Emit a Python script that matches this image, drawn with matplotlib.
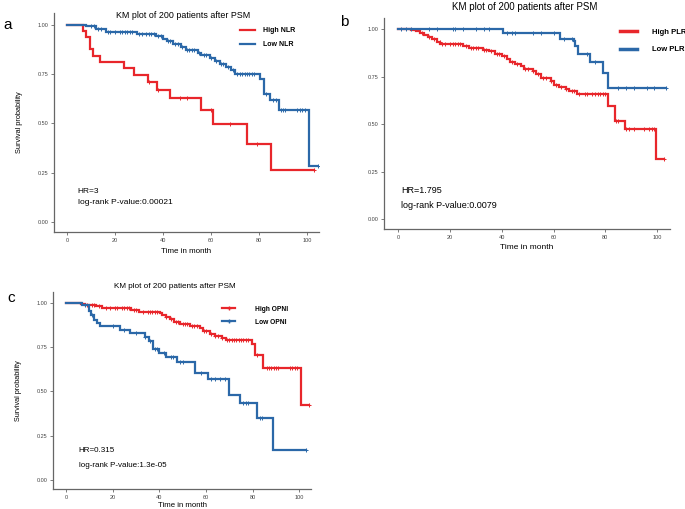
import matplotlib
matplotlib.use("Agg")
import matplotlib.pyplot as plt
import numpy as np

plt.rcParams["font.family"] = ["Liberation Sans", "DejaVu Sans"]

RED = "#e8262b"
BLUE = "#2b68a8"

# panel a: NLR
nlr_high_t = [0, 6.5, 8, 9.7, 10.6, 13.5, 23.8, 27.7, 33.6, 37.6, 42.8, 55.8, 60.6, 74.8, 84.9]
nlr_high_s = [1.0, 0.97, 0.937, 0.876, 0.844, 0.813, 0.781, 0.748, 0.71, 0.672, 0.628, 0.567, 0.497, 0.398, 0.265]
nlr_high_end = 103
nlr_high_cens = [34, 38, 47, 50, 60, 68, 79, 103]

nlr_low_t = [0, 8, 12, 16, 29, 37, 40, 41.5, 44, 47.5, 49.6, 54.5, 56, 59.4, 61.5, 63.6, 66.3, 68.4,
             69.8, 80.3, 82, 84.4, 88.5, 100.8]
nlr_low_s = [1.0, 0.995, 0.98, 0.966, 0.953, 0.942, 0.93, 0.92, 0.905, 0.89, 0.872, 0.858, 0.845, 0.83,
             0.815, 0.802, 0.787, 0.77, 0.75, 0.727, 0.647, 0.62, 0.57, 0.285]
nlr_low_end = 104.5
nlr_low_cens = [10, 11, 13, 14, 17, 18, 20, 22, 23, 24, 25, 26, 27, 30, 31, 33, 34, 35, 36, 38, 39, 42,
                43, 45, 46, 48, 50, 51, 52, 53, 55, 57, 58, 60, 62, 64, 65, 67, 69, 71, 72, 73, 74, 75,
                76, 77, 78, 83, 86, 87, 89, 90, 91, 96, 97, 98, 99, 104.5]

# panel b: PLR
plr_high_t = [0, 5, 7, 8.5, 10, 11.5, 13, 15, 16.2, 25, 27.5, 32.6, 35, 37.5, 40, 42, 43, 45, 47.4, 48.7,
              51.9, 53.2, 55, 58.9, 60.2, 62, 64.7, 66, 69.1, 81, 83.8, 87.8, 99.7]
plr_high_s = [1.0, 0.995, 0.99, 0.982, 0.972, 0.962, 0.95, 0.935, 0.921, 0.913, 0.904, 0.893, 0.885,
              0.872, 0.86, 0.845, 0.83, 0.818, 0.805, 0.79, 0.78, 0.765, 0.745, 0.728, 0.71, 0.697,
              0.685, 0.677, 0.659, 0.598, 0.518, 0.477, 0.318]
plr_high_end = 102.5
plr_high_cens = [9, 12, 14, 16, 17, 18, 20, 21, 22, 23, 24, 26, 28, 29, 30, 31, 33, 34, 36, 38, 39, 41,
                 44, 46, 49, 50, 52, 54, 56, 57, 59, 61, 63, 65, 67, 68, 70, 72, 73, 75, 76, 77, 78,
                 79, 80, 84, 85, 88, 89, 91, 95, 97, 98, 99, 102.5]

plr_low_t = [0, 40.3, 62.4, 67.8, 68.4, 69.4, 74.2, 79.3, 81]
plr_low_s = [1.0, 0.982, 0.948, 0.94, 0.913, 0.872, 0.83, 0.773, 0.693]
plr_low_end = 103.5
plr_low_cens = [1, 3, 5, 12, 15, 21, 22, 25, 30, 33, 35, 42, 44, 45, 52, 55, 60, 64, 67, 73, 76, 85, 88,
                91, 96, 99, 103.5]

# panel c: OPNI
opni_high_t = [0, 6.3, 8, 13, 15.5, 28, 31.5, 40.3, 41, 42.8, 44.6, 46.5, 49, 53, 57.4, 58.8, 61.7,
               63.8, 66.7, 68.8, 79.6, 81.2, 84.6, 100.7]
opni_high_s = [1.0, 0.995, 0.987, 0.981, 0.968, 0.957, 0.95, 0.942, 0.93, 0.918, 0.907, 0.893, 0.881,
               0.868, 0.856, 0.84, 0.826, 0.812, 0.8, 0.79, 0.768, 0.706, 0.634, 0.422]
opni_high_end = 104
opni_high_cens = [9, 11, 12, 14, 17, 19, 21, 22, 24, 25, 26, 27, 29, 30, 33, 35, 36, 37, 38, 39, 43,
                  45, 47, 48, 50, 51, 52, 54, 55, 56, 59, 60, 62, 64, 65, 67, 69, 70, 71, 72, 73, 74,
                  75, 76, 77, 78, 82, 86, 87, 88, 89, 90, 91, 96, 97, 98, 99, 104]

opni_low_t = [0, 7, 9.8, 10.8, 12.2, 13.4, 14.5, 23.3, 27.6, 33.8, 35.5, 37.5, 40, 43, 47.4, 55.3, 61,
              70, 74.8, 82, 88.7]
opni_low_s = [1.0, 0.987, 0.954, 0.928, 0.904, 0.885, 0.866, 0.845, 0.827, 0.808, 0.786, 0.737, 0.717,
              0.695, 0.665, 0.604, 0.569, 0.482, 0.433, 0.349, 0.172]
opni_low_end = 102.8
opni_low_cens = [8, 11, 20, 25, 30, 34, 36, 38, 39, 42, 45, 46, 49, 50, 58, 62, 64, 66, 68, 76, 77, 78,
                 83, 84, 102.8]

y_ticks = [0.0, 0.25, 0.5, 0.75, 1.0]
x_ticks = [0, 20, 40, 60, 80, 100]

W, H = 685, 509


def km_curve(ax, t, s, end, cens, color, label):
    tt = list(t) + [end]
    ss = list(s) + [s[-1]]
    ax.step(tt, ss, where="post", color=color, lw=1.6, label=label, solid_joinstyle="miter")
    idx = np.searchsorted(t, cens, side="right") - 1
    cy = np.array(s)[idx]
    ax.plot(cens, cy, ls="none", marker="+", ms=3.5, mew=0.7, color=color)


def make_axes(fig, left, top, right, bottom):
    ax = fig.add_axes([left / W, 1 - bottom / H, (right - left) / W, (bottom - top) / H])
    ax.set_xlim(-5.5, 105)
    ax.set_ylim(-0.05, 1.06)
    for sp in ["top", "right"]:
        ax.spines[sp].set_visible(False)
    for sp in ["left", "bottom"]:
        ax.spines[sp].set_color("#666666")
        ax.spines[sp].set_linewidth(0.9)
    ax.set_xticks(x_ticks)
    ax.set_yticks(y_ticks)
    ax.set_yticklabels(["%.2f" % v for v in y_ticks])
    ax.tick_params(length=2.2, width=0.6, color="#666666", labelsize=4, labelcolor="#444444", pad=2)
    return ax


fig = plt.figure(figsize=(W / 100, H / 100), dpi=100)

# ---- a
ax = make_axes(fig, 54, 13, 319, 232)
km_curve(ax, nlr_high_t, nlr_high_s, nlr_high_end, nlr_high_cens, RED, "High NLR")
km_curve(ax, nlr_low_t, nlr_low_s, nlr_low_end, nlr_low_cens, BLUE, "Low NLR")
ax.legend(loc="upper left", bbox_to_anchor=(0.70, 0.935), frameon=False, borderpad=0,
          borderaxespad=0, handlelength=2.2, handletextpad=1.2, labelspacing=1.0,
          prop={"size": 5, "weight": "bold"})
ax.text(0.09, 0.18, "HR=3", transform=ax.transAxes, fontsize=6)
ax.text(0.09, 0.13, "log-rank P-value:0.00021", transform=ax.transAxes, fontsize=6)
ax.set_xlabel("Time in month", fontsize=5.8, labelpad=4)
ax.set_ylabel("Survival probability", fontsize=5.3, labelpad=10)
fig.text(183 / W, 1 - 15 / H, "KM plot of 200 patients after PSM", ha="center", va="center", fontsize=6.4)
fig.text(8 / W, 1 - 25 / H, "a", ha="center", va="center", fontsize=11)

# ---- b
ax = make_axes(fig, 384, 18, 670, 229)
km_curve(ax, plr_high_t, plr_high_s, plr_high_end, plr_high_cens, RED, "High PLR")
km_curve(ax, plr_low_t, plr_low_s, plr_low_end, plr_low_cens, BLUE, "Low PLR")
leg = ax.legend(loc="upper left", bbox_to_anchor=(0.825, 0.95), frameon=False, borderpad=0,
                borderaxespad=0, handlelength=2.2, handletextpad=2.0, labelspacing=1.3,
                prop={"size": 5.5, "weight": "bold"})
for ln in leg.get_lines():
    ln.set_linewidth(2.5)
ax.text(0.06, 0.17, "HR=1.795", transform=ax.transAxes, fontsize=6.5)
ax.text(0.06, 0.10, "log-rank P-value:0.0079", transform=ax.transAxes, fontsize=6.5)
ax.set_xlabel("Time in month", fontsize=6, labelpad=3)
fig.text(525 / W, 1 - 7 / H, "KM plot of 200 patients after PSM", ha="center", va="center", fontsize=7)
fig.text(344 / W, 1 - 22 / H, "b", ha="center", va="center", fontsize=11)

# ---- c
ax = make_axes(fig, 53, 292, 311, 489)
km_curve(ax, opni_high_t, opni_high_s, opni_high_end, opni_high_cens, RED, "High OPNI")
km_curve(ax, opni_low_t, opni_low_s, opni_low_end, opni_low_cens, BLUE, "Low OPNI")
leg = ax.legend(loc="upper left", bbox_to_anchor=(0.655, 0.93), frameon=False, borderpad=0,
                borderaxespad=0, handlelength=2.0, handletextpad=3.0, labelspacing=0.9,
                prop={"size": 4.8, "weight": "bold"})
for ln in leg.get_lines():
    ln.set_marker("+")
    ln.set_markersize(3)
ax.text(0.1, 0.19, "HR=0.315", transform=ax.transAxes, fontsize=5.8)
ax.text(0.1, 0.11, "log-rank P-value:1.3e-05", transform=ax.transAxes, fontsize=5.8)
ax.set_xlabel("Time in month", fontsize=5.6, labelpad=1.5)
ax.set_ylabel("Survival probability", fontsize=5.2, labelpad=10)
fig.text(175 / W, 1 - 287 / H, "KM plot of 200 patients after PSM", ha="center", va="center", fontsize=5.9)
fig.text(11 / W, 1 - 298 / H, "c", ha="center", va="center", fontsize=11)

fig.savefig("out.png", dpi=100, facecolor="white")
